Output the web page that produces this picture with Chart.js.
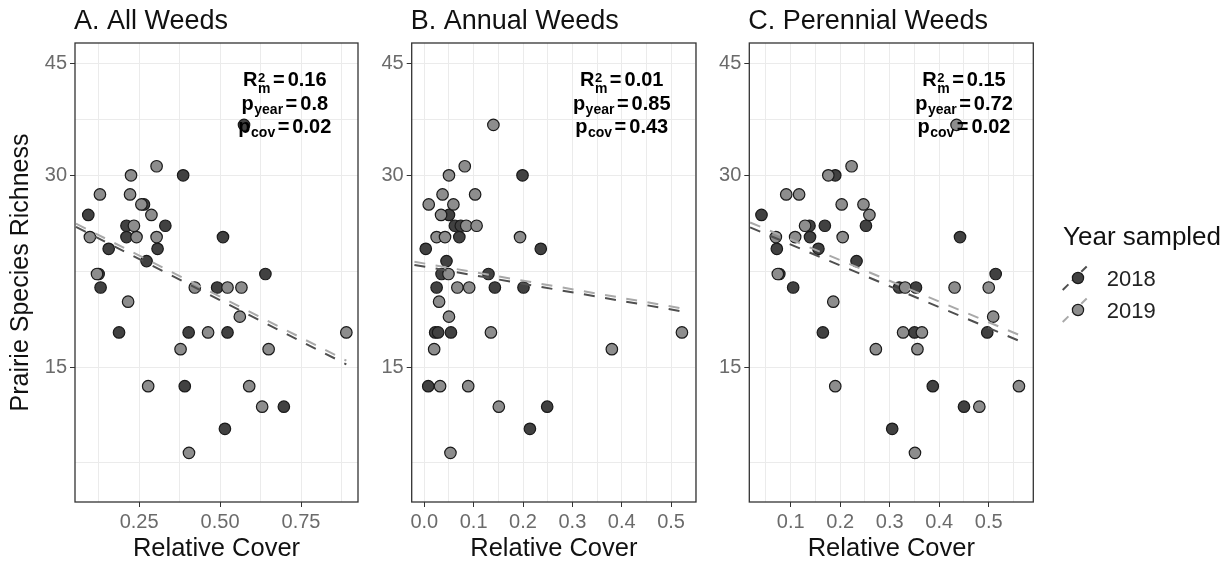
<!DOCTYPE html>
<html>
<head>
<meta charset="utf-8">
<script src="https://cdn.jsdelivr.net/npm/chart.js@4.4.0/dist/chart.umd.min.js"></script>
<style>
  html, body { margin: 0; padding: 0; background: #fff; }
  #wrap { position: relative; width: 1231px; height: 566px; overflow: hidden; }
  .panel { position: absolute; top: 0; }
</style>
</head>
<body>
<div id="wrap">
  <canvas id="cA" class="panel" style="left:0" width="365" height="566"></canvas>
  <canvas id="cB" class="panel" style="left:365px" width="340" height="566"></canvas>
  <canvas id="cC" class="panel" style="left:705px" width="526" height="566"></canvas>
</div>
<script>
// ---- data ----
const YEARS = ["2018", "2019"];

// A. All Weeds
const allX18 = [0.386, 0.574, 0.093, 0.265, 0.331, 0.211, 0.211, 0.307, 0.156, 0.273, 0.509, 0.125, 0.131, 0.640, 0.491, 0.188, 0.403, 0.523, 0.391, 0.697, 0.515];
const allY18 = [30, 36, 26, 27, 25, 25, 24, 23, 23, 22, 24, 21, 20, 21, 20, 17, 17, 17, 14, 13, 12];
const allX19 = [0.129, 0.225, 0.304, 0.222, 0.098, 0.257, 0.288, 0.234, 0.242, 0.304, 0.120, 0.422, 0.523, 0.566, 0.216, 0.561, 0.463, 0.890, 0.378, 0.650, 0.278, 0.590, 0.630, 0.404];
const allY19 = [28, 30, 31, 28, 24, 27, 26, 25, 24, 24, 21, 20, 20, 20, 19, 18, 17, 17, 16, 16, 14, 14, 13, 11];
const allFitX = [0.055, 0.89];
const allFit18 = [24.9, 15.15];
const allFit19 = [25.2, 15.35];

// B. Annual Weeds
const annX18 = [0.199, 0.050, 0.062, 0.074, 0.071, 0.003, 0.236, 0.045, 0.035, 0.130, 0.025, 0.143, 0.201, 0.022, 0.028, 0.054, 0.008, 0.249, 0.214];
const annY18 = [30, 26, 25, 25, 24, 23, 23, 22, 21, 21, 20, 20, 20, 17, 17, 17, 14, 13, 12];
const annX19 = [0.140, 0.050, 0.082, 0.037, 0.103, 0.009, 0.059, 0.034, 0.085, 0.106, 0.025, 0.042, 0.194, 0.049, 0.067, 0.091, 0.030, 0.050, 0.135, 0.522, 0.020, 0.380, 0.032, 0.089, 0.151, 0.053];
const annY19 = [36, 30, 31, 28, 28, 27, 27, 26, 25, 25, 24, 24, 24, 21, 20, 20, 19, 18, 17, 17, 16, 16, 14, 14, 13, 11];
const annFitX = [-0.02, 0.53];
const annFit18 = [21.7, 18.3];
const annFit19 = [21.95, 18.5];

// C. Perennial Weeds
const perX18 = [0.190, 0.041, 0.252, 0.138, 0.169, 0.139, 0.442, 0.072, 0.156, 0.233, 0.077, 0.514, 0.105, 0.319, 0.353, 0.165, 0.350, 0.497, 0.387, 0.450, 0.305];
const perY18 = [30, 26, 25, 25, 25, 24, 24, 23, 23, 22, 21, 21, 20, 20, 20, 17, 17, 17, 14, 13, 12];
const perX19 = [0.435, 0.223, 0.176, 0.091, 0.117, 0.203, 0.247, 0.259, 0.129, 0.070, 0.109, 0.205, 0.074, 0.331, 0.431, 0.500, 0.186, 0.509, 0.327, 0.365, 0.272, 0.356, 0.190, 0.561, 0.481, 0.351];
const perY19 = [36, 31, 30, 28, 28, 27, 27, 26, 25, 24, 24, 24, 21, 20, 20, 20, 19, 18, 17, 17, 16, 16, 14, 14, 13, 11];
const perFitX = [0.018, 0.573];
const perFit18 = [24.85, 16.35];
const perFit19 = [25.3, 16.7];

// stats text
const statR2 = ["0.16", "0.01", "0.15"];
const statPyear = ["0.8", "0.85", "0.72"];
const statPcov = ["0.02", "0.43", "0.02"];

// ticks
const yMajor = [15, 30, 45];
const yMinor = [10.61, 21.21, 36.74];
const aMajor = [0.25, 0.5, 0.75];
const aMinor = [0.125, 0.375, 0.625, 0.875];
const bMajor = [0, 0.1, 0.2, 0.3, 0.4, 0.5];
const bMinor = [0.05, 0.15, 0.25, 0.35, 0.45, 0.55];
const cMajor = [0.1, 0.2, 0.3, 0.4, 0.5];
const cMinor = [0.05, 0.15, 0.25, 0.35, 0.45, 0.55];

const FONT = "'Liberation Sans', Arial, sans-serif";
const DARK = "#414141";
const GREY = "#8d8d8d";
const LINE18 = "#4f4f4f";
const LINE19 = "#a9a9a9";

const pts = (xs, ys) => xs.map((x, i) => ({ x, y: ys[i] }));

function drawStatLine(ctx, cx, base, head, sub, sup, val) {
  const big = `bold 20px ${FONT}`;
  const small = `bold 14px ${FONT}`;
  const tiny = `bold 13px ${FONT}`;
  ctx.font = big;
  const wHead = ctx.measureText(head).width;
  const wEq = ctx.measureText("=").width;
  const wVal = ctx.measureText(val).width;
  ctx.font = small;
  const wSub = ctx.measureText(sub).width;
  let wSup = 0;
  if (sup) { ctx.font = tiny; wSup = ctx.measureText(sup).width; }
  const gap = 3;
  const wStack = Math.max(wSub, wSup);
  let x = cx - (wHead + wStack + gap + wEq + gap + wVal) / 2;
  ctx.font = big; ctx.fillText(head, x, base); x += wHead;
  ctx.font = small; ctx.fillText(sub, x + 0.5, base + (sup ? 7 : 4));
  if (sup) { ctx.font = tiny; ctx.fillText(sup, x + 0.5, base - 4); }
  x += wStack + gap;
  ctx.font = big; ctx.fillText("=", x, base); x += wEq + gap;
  ctx.fillText(val, x, base);
}

const panelDecor = {
  id: "panelDecor",
  afterDatasetsDraw(chart, args, opts) {
    const { ctx, chartArea: a, scales } = chart;
    ctx.save();
    ctx.strokeStyle = "#333";
    ctx.lineWidth = 1.3;
    ctx.strokeRect(a.left, a.top, a.right - a.left, a.bottom - a.top);
    ctx.fillStyle = "#111";
    ctx.textAlign = "left";
    ctx.textBaseline = "alphabetic";
    ctx.font = `27px ${FONT}`;
    ctx.fillText(opts.title, a.left - 1, 28.5);
    ctx.fillStyle = "#000";
    const cx = scales.x.getPixelForValue(opts.statX);
    drawStatLine(ctx, cx, a.top + 43, "R", "m", "2", statR2[opts.idx]);
    drawStatLine(ctx, cx, a.top + 67, "p", "year", null, statPyear[opts.idx]);
    drawStatLine(ctx, cx, a.top + 90.3, "p", "cov", null, statPcov[opts.idx]);
    ctx.restore();
  },
};

const legendDecor = {
  id: "legendDecor",
  afterDraw(chart) {
    const ctx = chart.ctx;
    const ox = 705;
    ctx.save();
    ctx.fillStyle = "#111";
    ctx.textAlign = "left";
    ctx.textBaseline = "alphabetic";
    ctx.font = `26px ${FONT}`;
    ctx.fillText("Year sampled", 1063 - ox, 245);
    const keys = [
      { y: 278, line: LINE18, fill: DARK },
      { y: 310, line: LINE19, fill: GREY },
    ];
    keys.forEach((k, i) => {
      ctx.strokeStyle = k.line;
      ctx.lineWidth = 2;
      ctx.setLineDash([8, 5]);
      ctx.beginPath();
      ctx.moveTo(1062.7 - ox, k.y + 12);
      ctx.lineTo(1086.7 - ox, k.y - 11.5);
      ctx.stroke();
      ctx.setLineDash([]);
      ctx.beginPath();
      ctx.arc(1078 - ox, k.y, 5.6, 0, Math.PI * 2);
      ctx.fillStyle = k.fill;
      ctx.fill();
      ctx.strokeStyle = "#1a1a1a";
      ctx.lineWidth = 1.2;
      ctx.stroke();
      ctx.fillStyle = "#222";
      ctx.font = `22px ${FONT}`;
      ctx.fillText(YEARS[i], 1106.7 - ox, k.y + 8.2);
    });
    ctx.restore();
  },
};

function makeChart(p) {
  const xTicks = [...p.xMinor, ...p.xMajor];
  const yTicks = [...yMinor, ...yMajor];
  const isMajX = (v) => p.xMajor.some((m) => Math.abs(m - v) < 1e-9);
  const isMajY = (v) => yMajor.some((m) => Math.abs(m - v) < 1e-9);
  const tickFont = { family: FONT, size: 20 };
  const lineDs = (ys, color) => ({
    type: "line",
    data: pts(p.fitX, ys),
    borderColor: color,
    borderWidth: 2,
    borderDash: [11, 10.5],
    pointRadius: 0,
    fill: false,
    tension: 0,
  });
  const ptDs = (xs, ys, fill) => ({
    type: "scatter",
    data: pts(xs, ys),
    backgroundColor: fill,
    borderColor: "#1a1a1a",
    borderWidth: 1.2,
    pointRadius: 5.75,
  });
  return new Chart(document.getElementById(p.id), {
    type: "scatter",
    data: {
      datasets: [
        { ...lineDs(p.fit19, LINE19), order: 0 },
        { ...lineDs(p.fit18, LINE18), order: 1 },
        { ...ptDs(p.x19, p.y19, GREY), order: 2 },
        { ...ptDs(p.x18, p.y18, DARK), order: 3 },
      ],
    },
    options: {
      responsive: false,
      animation: false,
      events: [],
      layout: { padding: { top: 43, right: p.padRight, left: 0, bottom: 0 }, autoPadding: false },
      plugins: {
        legend: { display: false },
        tooltip: { enabled: false },
        panelDecor: { title: p.title, statX: p.statX, idx: p.idx },
      },
      scales: {
        x: {
          type: "linear",
          min: p.xMin,
          max: p.xMax,
          afterBuildTicks: (s) => { s.ticks = xTicks.map((v) => ({ value: v })); },
          afterFit: (s) => { s.height = 64; },
          ticks: {
            autoSkip: false,
            maxRotation: 0,
            padding: 3,
            color: "#6b6b6b",
            font: tickFont,
            callback: (v) => (isMajX(v) ? v.toFixed(p.dec) : ""),
          },
          grid: {
            color: "#ebebeb",
            lineWidth: 1,
            tickLength: 5,
            tickColor: (c) => (isMajX(c.tick.value) ? "#333" : "rgba(0,0,0,0)"),
          },
          border: { display: false },
          title: { display: true, text: "Relative Cover", color: "#111", font: { family: FONT, size: 25.5 }, padding: { top: 0, bottom: 1.5 } },
        },
        y: {
          type: "logarithmic",
          min: 9.21,
          max: 48.4,
          afterBuildTicks: (s) => { s.ticks = yTicks.map((v) => ({ value: v })); },
          afterFit: (s) => { s.width = p.yAxisW; },
          ticks: {
            autoSkip: false,
            padding: 3,
            color: "#6b6b6b",
            font: tickFont,
            callback: (v) => (isMajY(v) ? String(v) : ""),
          },
          grid: {
            color: "#ebebeb",
            lineWidth: 1,
            tickLength: 5,
            tickColor: (c) => (isMajY(c.tick.value) ? "#333" : "rgba(0,0,0,0)"),
          },
          border: { display: false },
          title: { display: p.yTitle, text: "Prairie Species Richness", color: "#111", font: { family: FONT, size: 25 }, padding: { top: 6, bottom: 0 } },
        },
      },
    },
    plugins: p.legend ? [panelDecor, legendDecor] : [panelDecor],
  });
}

makeChart({ id: "cA", idx: 0, title: "A. All Weeds", yTitle: true, yAxisW: 75, padRight: 7,
  xMin: 0.052, xMax: 0.926, xMajor: aMajor, xMinor: aMinor, dec: 2, statX: 0.7,
  x18: allX18, y18: allY18, x19: allX19, y19: allY19, fitX: allFitX, fit18: allFit18, fit19: allFit19 });
makeChart({ id: "cB", idx: 1, title: "B. Annual Weeds", yTitle: false, yAxisW: 46.7, padRight: 9,
  xMin: -0.0255, xMax: 0.5505, xMajor: bMajor, xMinor: bMinor, dec: 1, statX: 0.4,
  x18: annX18, y18: annY18, x19: annX19, y19: annY19, fitX: annFitX, fit18: annFit18, fit19: annFit19 });
makeChart({ id: "cC", idx: 2, title: "C. Perennial Weeds", yTitle: false, yAxisW: 44.3, padRight: 197.7, legend: true,
  xMin: 0.0164, xMax: 0.590, xMajor: cMajor, xMinor: cMinor, dec: 1, statX: 0.45,
  x18: perX18, y18: perY18, x19: perX19, y19: perY19, fitX: perFitX, fit18: perFit18, fit19: perFit19 });
</script>
</body>
</html>
